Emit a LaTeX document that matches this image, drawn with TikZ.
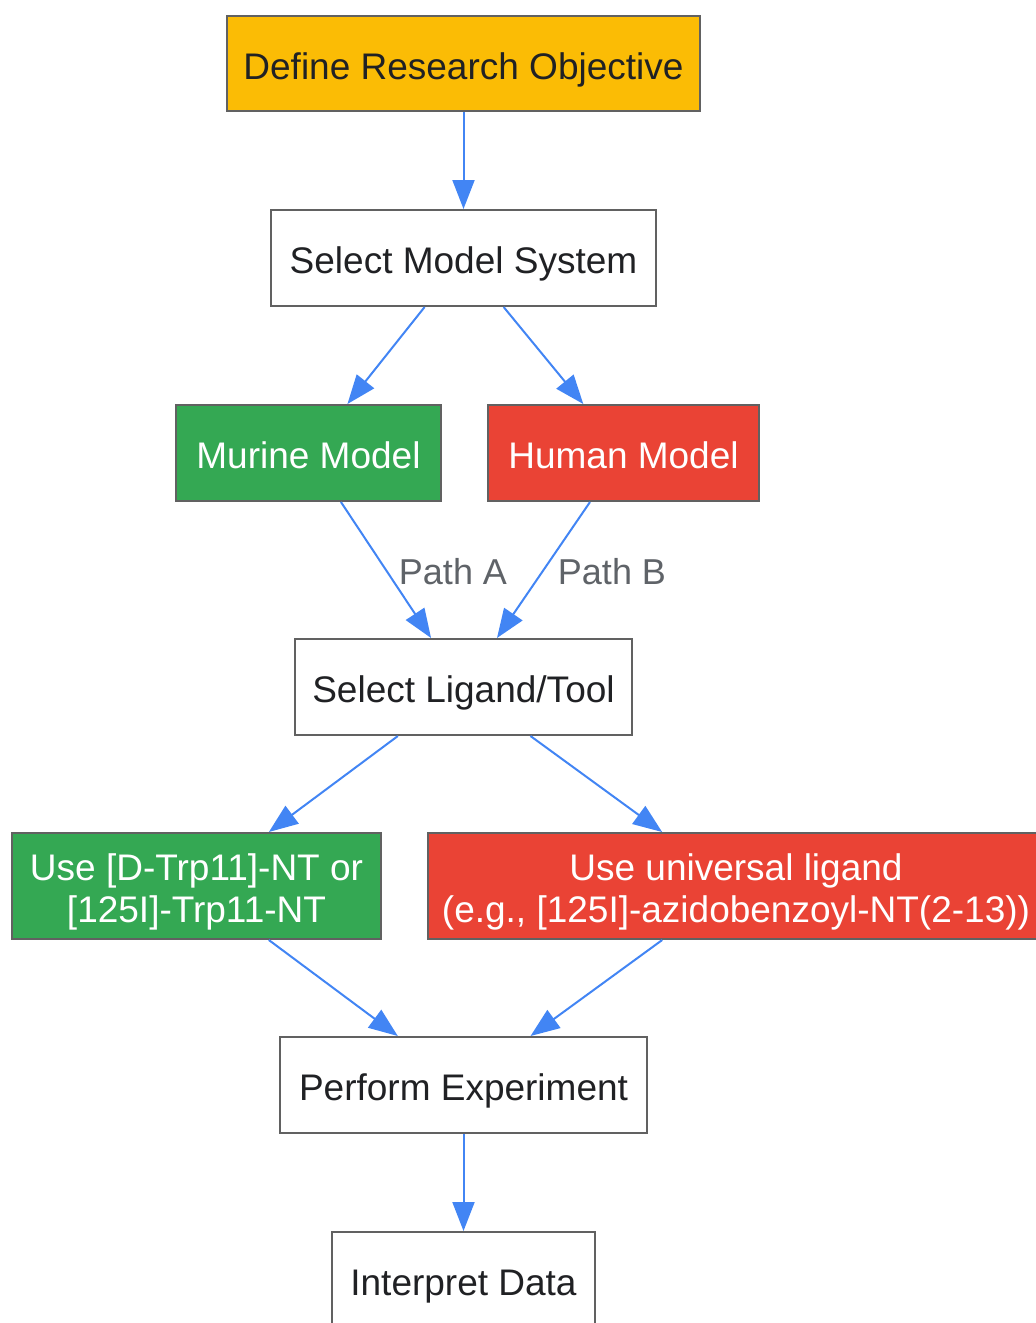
\documentclass[tikz,border=0pt]{standalone}
\usepackage{fontspec}
\setmainfont{Liberation Sans}
\usetikzlibrary{arrows.meta}
\definecolor{gyellow}{HTML}{FBBC05}
\definecolor{ggreen}{HTML}{34A853}
\definecolor{gred}{HTML}{EA4335}
\definecolor{gblue}{HTML}{4285F4}
\definecolor{gborder}{HTML}{616161}
\definecolor{gtext}{HTML}{202124}
\definecolor{glabel}{HTML}{5F6368}
\tikzset{
  box/.style={draw=gborder, line width=2pt, rectangle, inner sep=0pt, align=center,
    font=\fontsize{37}{42}\selectfont, text=gtext, fill=white, minimum height=96pt,
    text height=39pt, text depth=8pt},
  twoline/.style={text height=81pt, text depth=8pt, minimum height=106pt},
  yellowbox/.style={box, fill=gyellow},
  greenbox/.style={box, fill=ggreen, text=white},
  redbox/.style={box, fill=gred, text=white},
  conn/.style={draw=gblue, line width=2pt, -{Triangle[length=29pt,width=22pt]}},
  elabel/.style={font=\fontsize{36}{42}\selectfont, text=glabel, inner sep=0pt}
}
\begin{document}
\begin{tikzpicture}[x=1pt,y=-1pt]
\useasboundingbox (0,0) rectangle (1036,1323);
\node[yellowbox, minimum width=473pt, minimum height=95pt] (define) at (463.5,63.5) {Define Research Objective};
\node[box, minimum width=385pt] (model) at (463.5,258) {Select Model System};
\node[greenbox, minimum width=265pt] (murine) at (308.5,453) {Murine Model};
\node[redbox, minimum width=271pt] (human) at (623.5,453) {Human Model};
\node[box, minimum width=337pt] (ligand) at (463.5,687) {Select Ligand/Tool};
\node[greenbox, twoline, minimum width=369pt] (dtrp) at (196.5,886) {Use [D-Trp11]-NT or\\\relax [125I]-Trp11-NT};
\node[redbox, twoline, minimum width=616pt] (universal) at (736,886) {Use universal ligand\\(e.g., [125I]-azidobenzoyl-NT(2-13))};
\node[box, minimum width=367pt] (perform) at (463.5,1085) {Perform Experiment};
\node[box, minimum width=263pt] (interpret) at (463.5,1280) {Interpret Data};

\draw[conn] (define) -- (model);
\draw[conn] (model) -- (murine);
\draw[conn] (model) -- (human);
\draw[conn] (murine) -- (ligand);
\draw[conn] (human) -- (ligand);
\draw[conn] (ligand) -- (dtrp);
\draw[conn] (ligand) -- (universal);
\draw[conn] (dtrp) -- (perform);
\draw[conn] (universal) -- (perform);
\draw[conn] (perform) -- (interpret);

\node[elabel] (pathA) at (453,572) {Path A};
\node[elabel] (pathB) at (612,572) {Path B};
\end{tikzpicture}
\end{document}
